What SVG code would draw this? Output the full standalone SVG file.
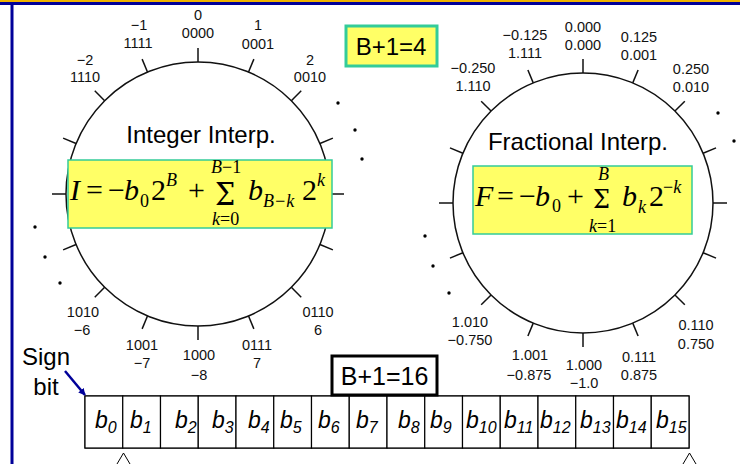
<svg xmlns="http://www.w3.org/2000/svg" width="740" height="464" viewBox="0 0 740 464">
<defs>
<style>
.lbl{font-family:"Liberation Sans",Arial,sans-serif;font-size:14.5px;text-anchor:middle;fill:#111}
.big{font-family:"Liberation Sans",Arial,sans-serif;font-size:24px;fill:#000}
.math{font-family:"Liberation Serif","Times New Roman",serif;font-size:30px;fill:#000}
.sigma{font-family:"DejaVu Serif","Liberation Serif",serif;fill:#000}
.it{font-style:italic}
.sm{font-size:18px}
.ring{fill:none;stroke:#111;stroke-width:1.5}
.tick{stroke:#111;stroke-width:1.5}
.dot{fill:#000}
.fbox{fill:#ffff66;stroke:#33cc99;stroke-width:1.5}
.cell{fill:#fff;stroke:#000;stroke-width:1.2}
.bit{font-family:"Liberation Sans",Arial,sans-serif;font-size:23px;font-style:italic;fill:#000}
.sub{font-size:16px}
</style>
<line id="tkL" x1="0" y1="-132" x2="0" y2="-146" class="tick"/>
<line id="tkR" x1="0" y1="-130" x2="0" y2="-144" class="tick"/>
<marker id="arr" viewBox="0 0 10 10" refX="9" refY="5" markerWidth="7" markerHeight="7" orient="auto" markerUnits="userSpaceOnUse">
<path d="M0,0 L10,5 L0,10 z" fill="#000099"/>
</marker>
</defs>

<g id="frame">
<rect x="0" y="0" width="740" height="2" fill="#f0b400"/>
<rect x="0" y="2" width="740" height="3" fill="#000099"/>
<rect x="10.5" y="2" width="3" height="462" fill="#000099"/>
</g>

<g id="integer-circle">
<circle cx="198" cy="194" r="132" class="ring"/>
<g transform="translate(198,194)">
<use href="#tkL"/>
<use href="#tkL" transform="rotate(22.5)"/>
<use href="#tkL" transform="rotate(45)"/>
<use href="#tkL" transform="rotate(67.5)"/>
<use href="#tkL" transform="rotate(90)"/>
<use href="#tkL" transform="rotate(112.5)"/>
<use href="#tkL" transform="rotate(135)"/>
<use href="#tkL" transform="rotate(157.5)"/>
<use href="#tkL" transform="rotate(180)"/>
<use href="#tkL" transform="rotate(202.5)"/>
<use href="#tkL" transform="rotate(225)"/>
<use href="#tkL" transform="rotate(247.5)"/>
<use href="#tkL" transform="rotate(270)"/>
<use href="#tkL" transform="rotate(292.5)"/>
<use href="#tkL" transform="rotate(315)"/>
<use href="#tkL" transform="rotate(337.5)"/>
</g>
<circle cx="338" cy="103" r="1.7" class="dot"/>
<circle cx="355" cy="130" r="1.7" class="dot"/>
<circle cx="362" cy="159" r="1.7" class="dot"/>
<circle cx="35" cy="227" r="1.7" class="dot"/>
<circle cx="45" cy="257" r="1.7" class="dot"/>
<circle cx="60" cy="283" r="1.7" class="dot"/>
<text class="lbl" x="198" y="20">0</text><text class="lbl" x="198" y="38">0000</text>
<text class="lbl" x="139" y="30">−1</text><text class="lbl" x="138" y="48">1111</text>
<text class="lbl" x="258" y="30">1</text><text class="lbl" x="258" y="49">0001</text>
<text class="lbl" x="85" y="65">−2</text><text class="lbl" x="85" y="82">1110</text>
<text class="lbl" x="310" y="65">2</text><text class="lbl" x="310" y="82">0010</text>
<text class="lbl" x="83" y="317">1010</text><text class="lbl" x="82" y="335">−6</text>
<text class="lbl" x="318" y="317">0110</text><text class="lbl" x="318" y="335">6</text>
<text class="lbl" x="142" y="350">1001</text><text class="lbl" x="142" y="368">−7</text>
<text class="lbl" x="199" y="360">1000</text><text class="lbl" x="199" y="380">−8</text>
<text class="lbl" x="257" y="350">0111</text><text class="lbl" x="257" y="368">7</text>
<text class="big" x="201" y="143" text-anchor="middle">Integer Interp.</text>
</g>

<g id="fraction-circle">
<circle cx="583" cy="203" r="130" class="ring"/>
<g transform="translate(583,203)">
<use href="#tkR"/>
<use href="#tkR" transform="rotate(22.5)"/>
<use href="#tkR" transform="rotate(45)"/>
<use href="#tkR" transform="rotate(67.5)"/>
<use href="#tkR" transform="rotate(90)"/>
<use href="#tkR" transform="rotate(112.5)"/>
<use href="#tkR" transform="rotate(135)"/>
<use href="#tkR" transform="rotate(157.5)"/>
<use href="#tkR" transform="rotate(180)"/>
<use href="#tkR" transform="rotate(202.5)"/>
<use href="#tkR" transform="rotate(225)"/>
<use href="#tkR" transform="rotate(247.5)"/>
<use href="#tkR" transform="rotate(270)"/>
<use href="#tkR" transform="rotate(292.5)"/>
<use href="#tkR" transform="rotate(315)"/>
<use href="#tkR" transform="rotate(337.5)"/>
</g>
<circle cx="718" cy="113" r="1.7" class="dot"/>
<circle cx="734" cy="141" r="1.7" class="dot"/>
<circle cx="425" cy="236" r="1.7" class="dot"/>
<circle cx="433" cy="266" r="1.7" class="dot"/>
<circle cx="449" cy="293" r="1.7" class="dot"/>
<text class="lbl" x="583" y="32">0.000</text><text class="lbl" x="583" y="50">0.000</text>
<text class="lbl" x="525" y="40">−0.125</text><text class="lbl" x="525" y="58">1.111</text>
<text class="lbl" x="639" y="42">0.125</text><text class="lbl" x="639" y="60">0.001</text>
<text class="lbl" x="473" y="73">−0.250</text><text class="lbl" x="473" y="91">1.110</text>
<text class="lbl" x="691" y="74">0.250</text><text class="lbl" x="691" y="92">0.010</text>
<text class="lbl" x="470" y="327">1.010</text><text class="lbl" x="470" y="345">−0.750</text>
<text class="lbl" x="696" y="330">0.110</text><text class="lbl" x="696" y="349">0.750</text>
<text class="lbl" x="530" y="360">1.001</text><text class="lbl" x="529" y="380">−0.875</text>
<text class="lbl" x="584" y="370">1.000</text><text class="lbl" x="584" y="388">−1.0</text>
<text class="lbl" x="639" y="362">0.111</text><text class="lbl" x="639" y="380">0.875</text>
<text class="big" x="578" y="150" text-anchor="middle">Fractional Interp.</text>
</g>

<g id="bits-4">
<rect x="346" y="26" width="91" height="40" fill="#ffff66" stroke="#33cc99" stroke-width="3"/>
<text class="big" x="391" y="55" text-anchor="middle">B+1=4</text>
</g>

<g id="integer-formula">
<rect x="68" y="160" width="264" height="68" class="fbox"/>
<text class="math it" x="70" y="200">I</text>
<text class="math" x="86" y="200">=</text>
<text class="math" x="108" y="200">−</text>
<text class="math it" x="124" y="200">b</text>
<text class="math sm" x="140" y="207">0</text>
<text class="math" x="151" y="200">2</text>
<text class="math it sm" x="166" y="186">B</text>
<text class="math" x="188" y="200">+</text>
<text class="sigma" transform="translate(215,205) scale(1.1,1.25)" style="font-size:26px">Σ</text>
<text class="math sm" x="211" y="173"><tspan class="it">B</tspan>−1</text>
<text class="math sm" x="212" y="225"><tspan class="it">k</tspan>=0</text>
<text class="math it" x="248" y="200">b</text>
<text class="math it sm" x="263" y="207">B−k</text>
<text class="math" x="302" y="200">2</text>
<text class="math it sm" x="317" y="186">k</text>
</g>

<g id="fraction-formula">
<rect x="473" y="166" width="219" height="68" class="fbox"/>
<text class="math it" x="475" y="206">F</text>
<text class="math" x="497" y="206">=</text>
<text class="math" x="519" y="206">−</text>
<text class="math it" x="535" y="206">b</text>
<text class="math sm" x="552" y="212">0</text>
<text class="math" x="567" y="206">+</text>
<text class="sigma" transform="translate(593,208) scale(1,1.1)" style="font-size:24px">Σ</text>
<text class="math it sm" x="598" y="180">B</text>
<text class="math sm" x="589" y="232"><tspan class="it">k</tspan>=1</text>
<text class="math it" x="622" y="206">b</text>
<text class="math it sm" x="638" y="213">k</text>
<text class="math" x="649" y="206">2</text>
<text class="math sm" x="663" y="193">−<tspan class="it">k</tspan></text>
</g>

<g id="sign-bit">
<text class="big" x="46" y="365" text-anchor="middle">Sign</text>
<text class="big" x="46" y="395" text-anchor="middle">bit</text>
</g>

<g id="register">
<rect x="85" y="396" width="604" height="52" class="cell"/>
<g id="cell-0"><rect x="85" y="396" width="37.75" height="52" class="cell"/><text class="bit" x="95" y="428">b<tspan class="sub" dy="5">0</tspan></text></g>
<g id="cell-1"><rect x="122.75" y="396" width="37.75" height="52" class="cell"/><text class="bit" x="130" y="428">b<tspan class="sub" dy="5">1</tspan></text></g>
<g id="cell-2"><rect x="160.5" y="396" width="37.75" height="52" class="cell"/><text class="bit" x="175" y="428">b<tspan class="sub" dy="5">2</tspan></text></g>
<g id="cell-3"><rect x="198.25" y="396" width="37.75" height="52" class="cell"/><text class="bit" x="212" y="428">b<tspan class="sub" dy="5">3</tspan></text></g>
<g id="cell-4"><rect x="236" y="396" width="37.75" height="52" class="cell"/><text class="bit" x="248" y="428">b<tspan class="sub" dy="5">4</tspan></text></g>
<g id="cell-5"><rect x="273.75" y="396" width="37.75" height="52" class="cell"/><text class="bit" x="280" y="428">b<tspan class="sub" dy="5">5</tspan></text></g>
<g id="cell-6"><rect x="311.5" y="396" width="37.75" height="52" class="cell"/><text class="bit" x="318" y="428">b<tspan class="sub" dy="5">6</tspan></text></g>
<g id="cell-7"><rect x="349.25" y="396" width="37.75" height="52" class="cell"/><text class="bit" x="356" y="428">b<tspan class="sub" dy="5">7</tspan></text></g>
<g id="cell-8"><rect x="387" y="396" width="37.75" height="52" class="cell"/><text class="bit" x="398" y="428">b<tspan class="sub" dy="5">8</tspan></text></g>
<g id="cell-9"><rect x="424.75" y="396" width="37.75" height="52" class="cell"/><text class="bit" x="430" y="428">b<tspan class="sub" dy="5">9</tspan></text></g>
<g id="cell-10"><rect x="462.5" y="396" width="37.75" height="52" class="cell"/><text class="bit" x="466" y="428">b<tspan class="sub" dy="5">10</tspan></text></g>
<g id="cell-11"><rect x="500.25" y="396" width="37.75" height="52" class="cell"/><text class="bit" x="504" y="428">b<tspan class="sub" dy="5">11</tspan></text></g>
<g id="cell-12"><rect x="538" y="396" width="37.75" height="52" class="cell"/><text class="bit" x="540" y="428">b<tspan class="sub" dy="5">12</tspan></text></g>
<g id="cell-13"><rect x="575.75" y="396" width="37.75" height="52" class="cell"/><text class="bit" x="580" y="428">b<tspan class="sub" dy="5">13</tspan></text></g>
<g id="cell-14"><rect x="613.5" y="396" width="37.75" height="52" class="cell"/><text class="bit" x="616" y="428">b<tspan class="sub" dy="5">14</tspan></text></g>
<g id="cell-15"><rect x="651.25" y="396" width="37.75" height="52" class="cell"/><text class="bit" x="656" y="428">b<tspan class="sub" dy="5">15</tspan></text></g>
</g>

<g id="bits-16">
<rect x="332" y="356" width="105" height="39" fill="#fff" stroke="#000" stroke-width="3"/>
<text class="big" x="384.5" y="385" text-anchor="middle" style="font-size:25px">B+1=16</text>
</g>

<g id="carets" fill="none" stroke="#000" stroke-width="1">
<polyline points="117,464 123.5,453 130,464"/>
<polyline points="683,464 689.5,453 696,464"/>
</g>

<g id="connectors">
<line x1="65" y1="371" x2="85" y2="395" stroke="#000099" stroke-width="2.5" marker-end="url(#arr)"/>
</g>
</svg>
